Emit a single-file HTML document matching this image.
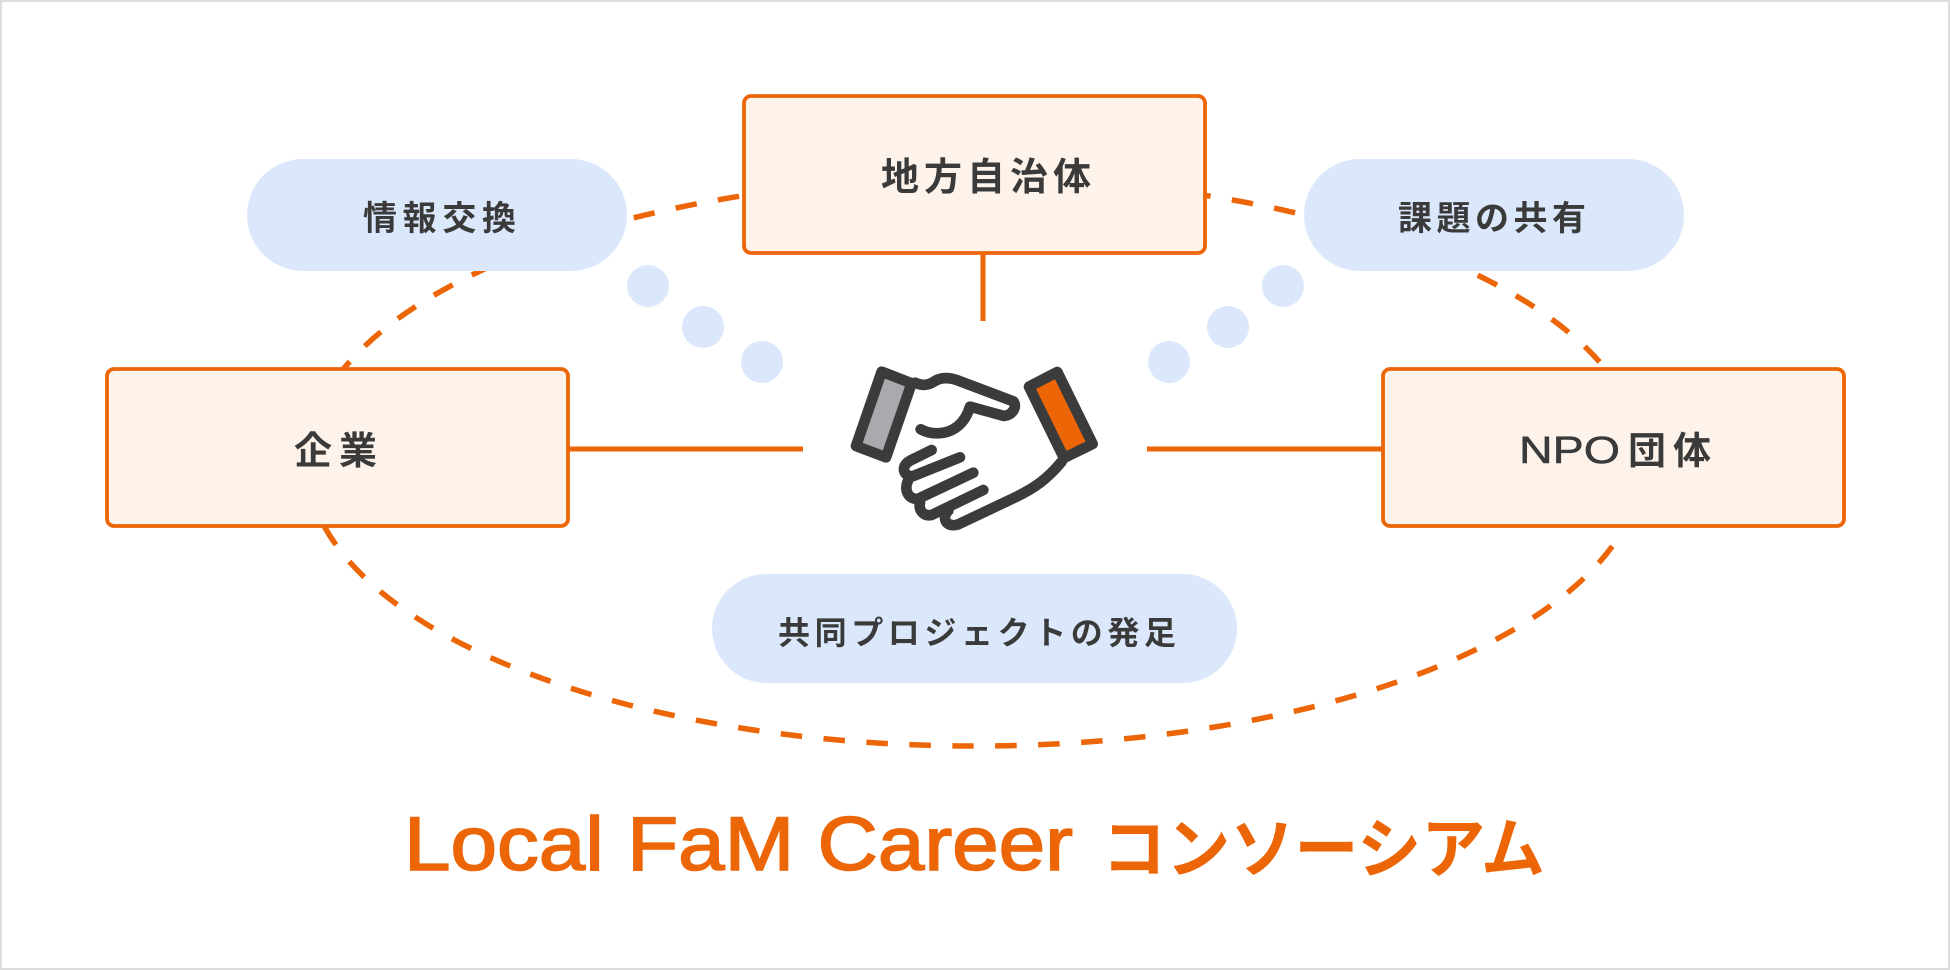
<!DOCTYPE html>
<html lang="ja">
<head>
<meta charset="utf-8">
<title>Local FaM Career コンソーシアム</title>
<style>
html,body{margin:0;padding:0;background:#fff}
svg{display:block}
.t{font-family:"Liberation Sans","Noto Sans CJK JP",sans-serif;fill:#3a3a3a;font-weight:700}
.h{stroke:#3b3b3b;stroke-width:32;stroke-linecap:round;stroke-linejoin:round;fill:none}
</style>
</head>
<body>
<svg xmlns="http://www.w3.org/2000/svg" width="1950" height="970" viewBox="0 0 1950 970">
<rect width="1950" height="970" fill="#fff"/>
<rect x="1" y="1" width="1948" height="968" fill="none" stroke="#dcdcdc" stroke-width="2"/>

<g fill="none" stroke="#ec6607" stroke-width="5.5" stroke-dasharray="21.5 21.5" stroke-dashoffset="10.75">
<path d="M963 746A668 284 0 0 1 321 520"/>
<path d="M963 746A668 284 0 0 0 1616 541"/>
<path d="M771 191.6A668 284 0 0 0 341 372"/>
<path d="M1200 194.6A668 284 0 0 1 1608 372"/>
</g>

<path d="M983 253V321M569 449H803M1147 449H1382" fill="none" stroke="#ec6607" stroke-width="5"/>

<g fill="#dbe8fb">
<rect x="247" y="159" width="380" height="112" rx="56"/>
<rect x="1304" y="159" width="380" height="112" rx="56"/>
<rect x="712" y="574" width="525" height="109" rx="54.5"/>
<circle cx="648" cy="286" r="21"/>
<circle cx="703" cy="327" r="21"/>
<circle cx="762" cy="362" r="21"/>
<circle cx="1283" cy="286" r="21"/>
<circle cx="1228" cy="327" r="21"/>
<circle cx="1169" cy="362" r="21"/>
</g>

<g fill="#fdf3ea" stroke="#ec6607" stroke-width="3.8">
<rect x="744" y="96" width="461" height="157" rx="7"/>
<rect x="107" y="369" width="461" height="157" rx="7"/>
<rect x="1383" y="369" width="461" height="157" rx="7"/>
</g>

<text class="t" x="881" y="190" font-size="38" textLength="210">地方自治体</text>
<text class="t" x="294" y="464" font-size="38" textLength="83">企業</text>
<text x="1519" y="463" font-family="'Liberation Sans',sans-serif" font-size="38" fill="#3a3a3a" stroke="#3a3a3a" stroke-width=".5" textLength="101" lengthAdjust="spacingAndGlyphs">NPO</text>
<text class="t" x="1628" y="464" font-size="38" textLength="83">団体</text>
<text class="t" x="363" y="230" font-size="34" textLength="153">情報交換</text>
<text class="t" x="1398" y="230" font-size="34" textLength="188">課題の共有</text>
<text class="t" x="778" y="644" font-size="32" textLength="398">共同プロジェクトの発足</text>

<g transform="translate(800 340) scale(.33333)">
<polygon points="245,95 335,130 258,352 168,318" fill="#a9aaad" stroke="#3b3b3b" stroke-width="32" stroke-linejoin="round"/>
<polygon points="772,96 687,140 792,354 878,312" fill="#ec6607" stroke="#3b3b3b" stroke-width="32" stroke-linejoin="round"/>
<path class="h" d="M345 128C365 138 385 136 400 126C420 112 445 112 470 120L640 184C652 198 640 225 612 228L510 200C495 250 460 280 410 280C390 280 375 275 362 268"/>
<path class="h" d="M395 330L330 362C300 378 310 412 340 408L480 352"/>
<path class="h" d="M325 420C310 450 325 480 355 476L520 398"/>
<path class="h" d="M360 488C355 510 370 530 395 525L550 450"/>
<path class="h" d="M445 512C425 530 435 565 475 553L650 470C700 445 740 420 785 365"/>
</g>

<text x="404" y="870" font-family="'Liberation Sans',sans-serif" font-size="76" fill="#ec6607" stroke="#ec6607" stroke-width="1.6" textLength="669" lengthAdjust="spacingAndGlyphs">Local FaM Career</text>
<text x="1102" y="872" font-family="'Liberation Sans','Noto Sans CJK JP',sans-serif" font-size="66" font-weight="700" fill="#ec6607" textLength="443" lengthAdjust="spacingAndGlyphs">コンソーシアム</text>
</svg>
</body>
</html>
